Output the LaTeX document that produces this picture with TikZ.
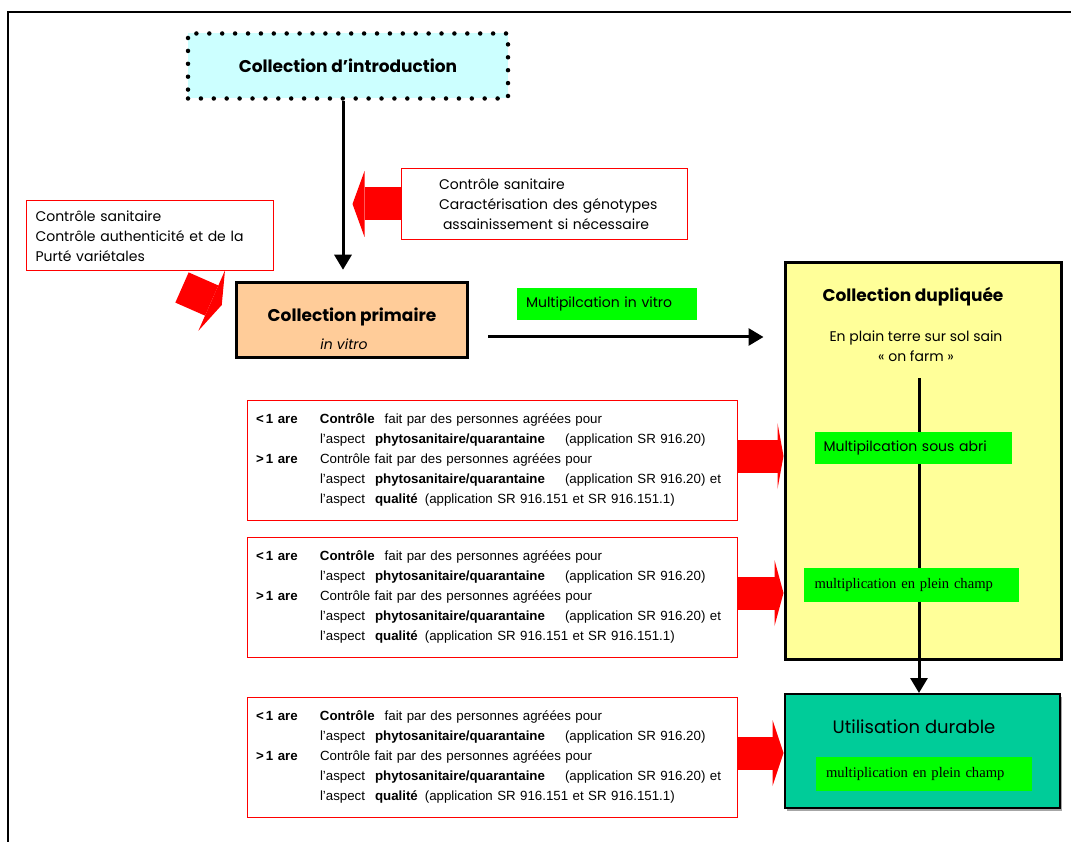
\documentclass[tikz,border=0pt]{standalone}
\usepackage{fontspec}
\setmainfont{Poppins}
\newfontfamily\arialfont{Liberation Sans}
\newfontfamily\timesfont{Liberation Serif}
\usetikzlibrary{arrows.meta,positioning,shadows}
\definecolor{cyanPale}{RGB}{204,255,255}
\definecolor{peche}{RGB}{255,204,153}
\definecolor{jaunePale}{RGB}{255,255,153}
\definecolor{vertVif}{RGB}{0,255,0}
\definecolor{vertEau}{RGB}{0,204,153}
\definecolor{rougeVif}{RGB}{255,0,0}

% texte commun des trois cadres de controle
\newcommand{\texteControle}{%
\makebox[64pt][l]{\textbf{<\,1 are}}\textbf{Contrôle}\hspace{10pt}fait par des personnes agréées pour\\
\hspace*{64pt}\makebox[55pt][l]{l’aspect}\makebox[190pt][l]{\textbf{phytosanitaire/quarantaine}}(application SR 916.20)\\
\makebox[64pt][l]{\textbf{>\,1 are}}Contrôle fait par des personnes agréées pour\\
\hspace*{64pt}\makebox[55pt][l]{l’aspect}\makebox[190pt][l]{\textbf{phytosanitaire/quarantaine}}(application SR 916.20) et\\
\hspace*{64pt}\makebox[55pt][l]{l’aspect}\textbf{qualité}\hspace{7pt}(application SR 916.151 et SR 916.151.1)}

\begin{document}
\begin{tikzpicture}[x=1pt,y=-1pt,
    font=\fontsize{14}{20}\selectfont,
    cadre/.style={line width=2.5pt},
    titreCG/.style={font=\bfseries\fontsize{17}{20}\selectfont},
    intro/.style={fill=cyanPale,draw,line width=4.5pt,dash pattern=on 0pt off 12.9pt,
                  line cap=round,titreCG},
    boiteNoire/.style={draw,line width=3.5pt},
    ctlRouge/.style={draw=rougeVif,line width=1pt,fill=white,align=left},
    ctlArial/.style={ctlRouge,text width=472pt,inner xsep=9pt,minimum height=120pt,
                     font=\arialfont\fontsize{13.3}{20}\selectfont},
    vertBox/.style={fill=vertVif,align=left,minimum height=32pt},
    flecheNoire/.style={line width=3pt,-{Triangle[length=15pt,width=17pt]}},
    flecheRouge/.style={line width=33pt,draw=rougeVif,
                        -{Triangle[length=#1,width=66pt,line width=0pt]}},
    flecheRouge/.default=10pt]
  \useasboundingbox (0,0) rectangle (1071,842);
  \draw[cadre] (8,842) -- (8,12) -- (1071,12);

  % collections
  \node[intro,minimum width=320pt,minimum height=65pt] (intro) at (348,66) {Collection d’introduction};
  \node[boiteNoire,fill=peche,minimum width=231pt,minimum height=75pt,align=center]
       (primaire) at (352,320) {\rule{0pt}{32pt}\textbf{\fontsize{17}{20}\selectfont Collection primaire}\\[8pt]
       \hspace*{-16pt}\textit{in vitro}};
  \node[boiteNoire,line width=3pt,fill=jaunePale,minimum width=276pt,minimum height=397pt]
       (dupliquee) at (923,461) {};
  \node[titreCG] (dupTitre) at (913,297) {Collection dupliquée};
  \node[align=center] (dupSol) at (916,346) {En plain terre sur sol sain\\« on farm »};
  \node[draw,line width=2pt,fill=vertEau,minimum width=275pt,minimum height=114pt,
        drop shadow={shadow xshift=2.5pt,shadow yshift=-2.5pt,fill=black!35,opacity=1}]
       (utilisation) at (922,751) {};
  \node[font=\fontsize{18}{20}\selectfont] (utilTitre) at (914,727) {Utilisation durable};
  \node[vertBox,text width=196pt,inner xsep=10pt,minimum height=34pt,
        font=\timesfont\fontsize{14.6}{18}\selectfont] (pleinChamp2) at (924,774)
       {multiplication en plein champ};

  % controles
  \node[ctlRouge,text width=229pt,inner xsep=9pt,minimum height=70pt] (ctlGauche) at (150,236)
       {Contrôle sanitaire\\Contrôle authenticité et de la\\Purté variétales};
  \node[ctlRouge,text width=248pt,inner xsep=19pt,minimum height=71pt] (ctlDroite) at (544,204)
       {\hspace*{19pt}Contrôle sanitaire\\\hspace*{19pt}Caractérisation des génotypes\\
        \hspace*{23pt}assainissement si nécessaire};
  \node[ctlArial] (ctl1) at (492,460) {\texteControle};
  \node[ctlArial] (ctl2) at (492,597) {\texteControle};
  \node[ctlArial] (ctl3) at (492,757) {\texteControle};

  \node[vertBox,text width=162pt,inner xsep=9pt] (multVitro) at (607,304) {Multipilcation in vitro};

  % fleches noires
  \draw[flecheNoire,shorten >=11pt] ([xshift=-5pt]intro.south) -- ([xshift=-9pt]primaire.north);
  \coordinate (hDepart) at ([xshift=19pt,yshift=-17pt]primaire.east);
  \draw[flecheNoire] (hDepart) -- ([xshift=-20pt]hDepart -| dupliquee.west);
  \coordinate (descente) at (919,378);
  \draw[flecheNoire] (descente) -- (descente |- utilisation.north);

  \node[vertBox,text width=179pt,inner xsep=9pt] (sousAbri) at (913,448) {Multipilcation sous abri};
  \node[vertBox,text width=193pt,inner xsep=11pt,minimum height=34pt,
        font=\timesfont\fontsize{14.6}{18}\selectfont] (pleinChamp1) at (911,585)
       {multiplication en plein champ};

  % fleches rouges
  \draw[flecheRouge=12pt] (ctlDroite.west) -- ++(-48,0);
  \draw[flecheRouge=11pt] ([shift={(-92pt,-16pt)}]ctlGauche.south east) -- ([shift={(-13pt,15pt)}]primaire.west);
  \draw[flecheRouge=6pt] ([yshift=4pt]ctl1.east) -- ([yshift=4pt]ctl1.east -| dupliquee.west);
  \draw[flecheRouge=9pt] ([yshift=4pt]ctl2.east) -- ([yshift=4pt]ctl2.east -| dupliquee.west);
  \draw[flecheRouge=11pt] ([yshift=4pt]ctl3.east) -- ([yshift=4pt]ctl3.east -| utilisation.west);
\end{tikzpicture}
\end{document}
